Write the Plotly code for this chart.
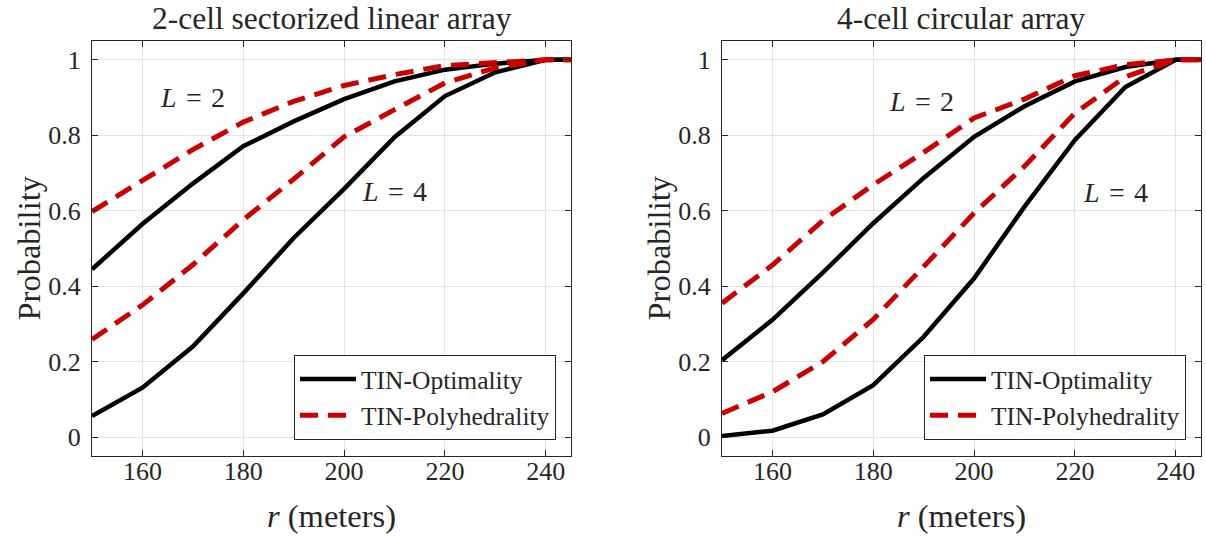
import plotly.graph_objects as go

# ---------------- data ----------------
r_vals = [150, 160, 170, 180, 190, 200, 210, 220, 230, 240, 250]

# 2-cell sectorized linear array
lin_opt_L2 = [0.445, 0.565, 0.672, 0.771, 0.837, 0.896, 0.943, 0.974, 0.990, 1.0, 1.0]
lin_opt_L4 = [0.056, 0.131, 0.240, 0.381, 0.528, 0.658, 0.795, 0.904, 0.967, 1.0, 1.0]
lin_pol_L2 = [0.598, 0.680, 0.762, 0.835, 0.890, 0.932, 0.961, 0.985, 0.994, 1.0, 1.0]
lin_pol_L4 = [0.259, 0.350, 0.457, 0.576, 0.684, 0.796, 0.868, 0.939, 0.979, 1.0, 1.0]

# 4-cell circular array
cir_opt_L2 = [0.204, 0.311, 0.436, 0.567, 0.687, 0.796, 0.877, 0.943, 0.981, 1.0, 1.0]
cir_opt_L4 = [0.003, 0.017, 0.060, 0.138, 0.266, 0.421, 0.611, 0.788, 0.928, 1.0, 1.0]
cir_pol_L2 = [0.355, 0.456, 0.574, 0.669, 0.755, 0.846, 0.896, 0.958, 0.987, 1.0, 1.0]
cir_pol_L4 = [0.063, 0.120, 0.200, 0.312, 0.452, 0.594, 0.718, 0.859, 0.955, 1.0, 1.0]

x_ticks = [160, 180, 200, 220, 240]
y_ticks = [0, 0.2, 0.4, 0.6, 0.8, 1.0]
y_tick_text = ["0", "0.2", "0.4", "0.6", "0.8", "1"]

titles = ["2-cell sectorized linear array", "4-cell circular array"]
series_names = ["TIN-Optimality", "TIN-Polyhedrality"]

# ---------------- styling ----------------
FONT = "Liberation Serif"
TXT = "#262626"
BLACK = "#000000"
RED = "#cc0000"
W, H = 1206, 536

fig = go.Figure()

panels = [
    ("x", "y", "legend", lin_opt_L2, lin_opt_L4, lin_pol_L2, lin_pol_L4),
    ("x2", "y2", "legend2", cir_opt_L2, cir_opt_L4, cir_pol_L2, cir_pol_L4),
]

for xa, ya, lg, o2, o4, p2, p4 in panels:
    for i, ys in enumerate([o2, o4]):
        fig.add_trace(go.Scatter(
            x=r_vals, y=ys, mode="lines", xaxis=xa, yaxis=ya,
            line=dict(color=BLACK, width=4.5),
            name=series_names[0], legend=lg, legendgroup=lg + "opt",
            showlegend=(i == 0), hoverinfo="skip"))
    for i, ys in enumerate([p2, p4]):
        fig.add_trace(go.Scatter(
            x=r_vals, y=ys, mode="lines", xaxis=xa, yaxis=ya,
            line=dict(color=RED, width=5, dash="18px,10px"),
            name=series_names[1], legend=lg, legendgroup=lg + "pol",
            showlegend=(i == 0), hoverinfo="skip"))

# axes geometry (pixels)
left_px = [92, 722]
right_px = [571, 1201]
top_px, bot_px = 41, 456

axis_common = dict(
    showline=True, linecolor=TXT, linewidth=1, mirror="ticks",
    ticks="inside", ticklen=6, tickcolor=TXT,
    showgrid=True, gridcolor="#e3e3e3", gridwidth=1,
    zeroline=False, automargin=False,
    tickfont=dict(family=FONT, size=26, color=TXT),
)

ydom = [1 - bot_px / H, 1 - top_px / H]
for k in range(2):
    xname = "xaxis" if k == 0 else "xaxis2"
    yname = "yaxis" if k == 0 else "yaxis2"
    fig.update_layout(**{
        xname: dict(axis_common, domain=[left_px[k] / W, right_px[k] / W],
                    range=[150, 245], tickvals=x_ticks,
                    anchor="y" if k == 0 else "y2", ticklabelstandoff=-8),
        yname: dict(axis_common, domain=ydom, range=[-0.05, 1.05],
                    tickvals=y_ticks, ticktext=y_tick_text,
                    anchor="x" if k == 0 else "x2", ticklabelstandoff=5),
    })

annotations = []
for k in range(2):
    cx = (left_px[k] + right_px[k]) / 2 / W
    annotations.append(dict(text=titles[k], x=cx, y=1 - 19 / H, xref="paper", yref="paper",
                            showarrow=False, xanchor="center", yanchor="middle",
                            font=dict(family=FONT, size=31.5, color=TXT)))
    annotations.append(dict(text="<i>r</i> (meters)", x=cx, y=1 - 516 / H, xref="paper", yref="paper",
                            showarrow=False, xanchor="center", yanchor="middle",
                            font=dict(family=FONT, size=32.5, color=TXT)))
    annotations.append(dict(text="Probability", x=(left_px[k] - 64) / W, y=sum(ydom) / 2,
                            xref="paper", yref="paper", textangle=-90,
                            showarrow=False, xanchor="center", yanchor="middle",
                            font=dict(family=FONT, size=32.5, color=TXT)))

SP = "\u2004"
label_pos = [
    ("x", "y", 170.0, 0.90, "<i>L</i>" + SP + "=" + SP + "2"),
    ("x", "y", 210.0, 0.652, "<i>L</i>" + SP + "=" + SP + "4"),
    ("x2", "y2", 189.5, 0.89, "<i>L</i>" + SP + "=" + SP + "2"),
    ("x2", "y2", 228.0, 0.649, "<i>L</i>" + SP + "=" + SP + "4"),
]
for xr, yr, xv, yv, t in label_pos:
    annotations.append(dict(text=t, x=xv, y=yv, xref=xr, yref=yr, showarrow=False,
                            xanchor="center", yanchor="middle",
                            font=dict(family=FONT, size=28, color=TXT)))

legend_common = dict(
    xref="paper", yref="paper", xanchor="right", yanchor="bottom",
    bgcolor="white", bordercolor=TXT, borderwidth=1, itemwidth=56,
    font=dict(family=FONT, size=25.5, color=TXT), tracegroupgap=0,
)

fig.update_layout(
    width=W, height=H,
    margin=dict(l=0, r=0, t=0, b=0),
    font=dict(family=FONT, color=TXT),
    paper_bgcolor="white", plot_bgcolor="white",
    annotations=annotations,
    legend=dict(legend_common, x=556 / W, y=1 - 440 / H),
    legend2=dict(legend_common, x=1186 / W, y=1 - 440 / H),
)

fig.write_html(
    "out.html",
    config={"displayModeBar": False},
    post_script="document.body.style.margin='0';document.body.style.padding='0';"
                "document.body.style.overflow='hidden';",
)
